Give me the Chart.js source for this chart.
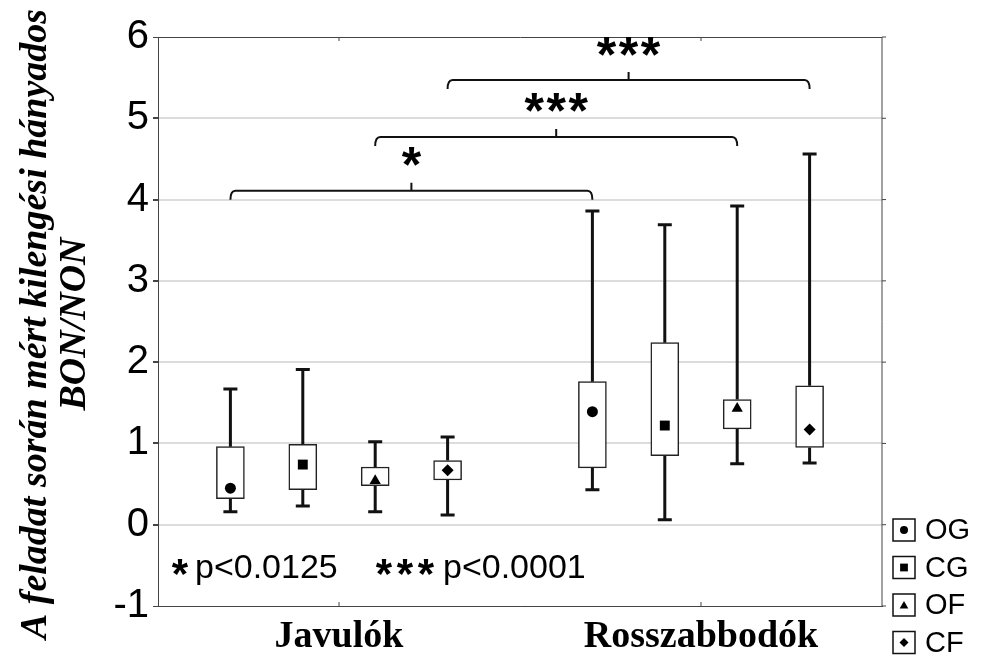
<!DOCTYPE html>
<html>
<head>
<meta charset="utf-8">
<script src="https://cdn.jsdelivr.net/npm/chart.js@4"></script>
<style>
  html, body { margin: 0; padding: 0; background: #fff; }
  canvas { display: block; }
</style>
</head>
<body>
<canvas id="chart" width="981" height="656"></canvas>
<script>
// groups on the x axis, 4 conditions in each group
const groups = ["Javulók", "Rosszabbodók"];
const series = ["OG", "CG", "OF", "CF"];
const pointStyles = ["circle", "rect", "triangle", "rectRot"];

// box values, order: Javulók OG, CG, OF, CF, then Rosszabbodók OG, CG, OF, CF
const whiskerMin = [0.16, 0.23, 0.16, 0.12, 0.43, 0.06, 0.75, 0.76];
const boxLow = [0.32, 0.43, 0.48, 0.55, 0.70, 0.85, 1.18, 0.95];
const centers = [0.45, 0.74, 0.54, 0.67, 1.39, 1.22, 1.43, 1.17];
const boxHigh = [0.96, 0.99, 0.71, 0.79, 1.76, 2.24, 1.54, 1.71];
const whiskerMax = [1.67, 1.91, 1.02, 1.08, 3.86, 3.69, 3.92, 4.56];

// significance brackets (box index from / to, height in y units)
const bracketFrom = [0, 2, 3];
const bracketTo = [4, 6, 7];
const bracketLevel = [4.11, 4.77, 5.47];
const bracketStars = [1, 3, 3];

const yTicks = [-1, 0, 1, 2, 3, 4, 5, 6];
const yTitle = ["A feladat során mért kilengési hányados", "BON/NON"];

// x position of box i: group center +- offsets
function boxPos(i) {
  const g = Math.floor(i / 4);
  const s = i % 4;
  return g + 0.5 + (s - 1.5) * 0.2;
}

// draws n asterisks centered on (cx, cy)
function drawStars(ctx, n, cx, cy, size, gap) {
  ctx.font = "bold " + size + 'px "Liberation Sans"';
  ctx.textAlign = "center";
  ctx.textBaseline = "alphabetic";
  const m = ctx.measureText("*");
  const base = cy + (m.actualBoundingBoxAscent - m.actualBoundingBoxDescent) / 2;
  for (let k = 0; k < n; k++) {
    ctx.fillText("*", cx + (k - (n - 1) / 2) * gap, base);
  }
}

const extras = {
  id: "boxExtras",
  beforeDatasetsDraw(chart) {
    const { ctx, scales: { x, y } } = chart;
    ctx.save();
    ctx.strokeStyle = "#111";
    ctx.lineWidth = 3;
    whiskerMax.forEach((hi, i) => {
      const px = x.getPixelForValue(boxPos(i));
      ctx.beginPath();
      ctx.moveTo(px, y.getPixelForValue(whiskerMin[i]));
      ctx.lineTo(px, y.getPixelForValue(boxLow[i]));
      ctx.moveTo(px, y.getPixelForValue(boxHigh[i]));
      ctx.lineTo(px, y.getPixelForValue(hi));
      // caps
      [whiskerMin[i], hi].forEach((v) => {
        const py = y.getPixelForValue(v);
        ctx.moveTo(px - 7, py);
        ctx.lineTo(px + 7, py);
      });
      ctx.stroke();
    });
    ctx.restore();
  },
  afterDraw(chart) {
    const { ctx, chartArea: a, scales: { x, y } } = chart;
    ctx.save();

    // frame: right border and small ticks
    ctx.strokeStyle = "#444";
    ctx.lineWidth = 1;
    ctx.beginPath();
    ctx.moveTo(a.right, a.top);
    ctx.lineTo(a.right, a.bottom);
    yTicks.forEach((v) => {
      const py = y.getPixelForValue(v);
      ctx.moveTo(a.right, py);
      ctx.lineTo(a.right + 4, py);
    });
    groups.forEach((g, gi) => {
      const px = x.getPixelForValue(gi + 0.5);
      ctx.moveTo(px, a.top);
      ctx.lineTo(px, a.top + 4);
      ctx.moveTo(px, a.bottom);
      ctx.lineTo(px, a.bottom - 4);
    });
    ctx.stroke();

    // brackets
    ctx.strokeStyle = "#111";
    ctx.fillStyle = "#000";
    ctx.lineWidth = 2;
    bracketLevel.forEach((lvl, b) => {
      const x1 = x.getPixelForValue(boxPos(bracketFrom[b]));
      const x2 = x.getPixelForValue(boxPos(bracketTo[b]));
      const py = y.getPixelForValue(lvl);
      const mid = (x1 + x2) / 2;
      ctx.beginPath();
      ctx.moveTo(x1, py + 9);
      ctx.quadraticCurveTo(x1, py, x1 + 5, py);
      ctx.lineTo(x2 - 5, py);
      ctx.quadraticCurveTo(x2, py, x2, py + 9);
      ctx.moveTo(mid, py);
      ctx.lineTo(mid, py - 8);
      ctx.stroke();
      drawStars(ctx, bracketStars[b], mid, py - 34, 50, 22);
    });

    // p-value note
    const noteY = a.bottom - 39;
    drawStars(ctx, 1, a.left + 22, noteY, 42, 21);
    ctx.font = '34px "Liberation Sans"';
    ctx.textAlign = "left";
    ctx.textBaseline = "middle";
    ctx.fillText("p<0.0125", a.left + 37, noteY + 2);
    drawStars(ctx, 3, a.left + 247, noteY, 42, 21);
    ctx.font = '34px "Liberation Sans"';
    ctx.textAlign = "left";
    ctx.textBaseline = "middle";
    ctx.fillText("p<0.0001", a.left + 285, noteY + 2);

    // legend
    series.forEach((name, s) => {
      const cy = 530 + s * 37.5;
      ctx.strokeStyle = "#111";
      ctx.lineWidth = 1.5;
      ctx.strokeRect(893, cy - 11, 22, 22);
      ctx.fillStyle = "#000";
      Chart.helpers.drawPoint(ctx, {
        pointStyle: pointStyles[s],
        radius: [4, 5.5, 5, 4.5][s],
        rotation: 0,
        borderWidth: 0,
      }, 904, cy + (s === 2 ? 1 : 0));
      ctx.font = '29px "Liberation Sans"';
      ctx.textAlign = "left";
      ctx.textBaseline = "middle";
      ctx.fillText(name, 925, cy + 1);
    });

    // y axis title
    ctx.translate(36, 324);
    ctx.rotate(-Math.PI / 2);
    ctx.font = 'italic bold 38px "Liberation Serif"';
    ctx.textAlign = "center";
    ctx.textBaseline = "middle";
    ctx.fillText(yTitle[0], 0, 0);
    ctx.fillText(yTitle[1], 0, 39);
    ctx.restore();
  },
};

new Chart(document.getElementById("chart"), {
  type: "bar",
  data: {
    datasets: [
      {
        type: "bar",
        label: "box",
        data: boxLow.map((lo, i) => ({ x: boxPos(i), y: [lo, boxHigh[i]] })),
        backgroundColor: "#fff",
        borderColor: "#222",
        borderWidth: 1.5,
        borderSkipped: false,
        barThickness: 28,
        order: 2,
      },
      ...series.map((name, s) => ({
        type: "scatter",
        label: name,
        data: groups.map((g, gi) => ({ x: boxPos(gi * 4 + s), y: centers[gi * 4 + s] })),
        pointStyle: pointStyles[s],
        pointRadius: [5.5, 7, 6.5, 6][s],
        backgroundColor: "#000",
        borderColor: "#000",
        borderWidth: 0,
        order: 1,
      })),
    ],
  },
  options: {
    responsive: false,
    devicePixelRatio: 1,
    animation: false,
    layout: { padding: { top: 37, right: 99, left: 0, bottom: 0 } },
    plugins: {
      legend: { display: false },
      tooltip: { enabled: false },
    },
    scales: {
      x: {
        type: "linear",
        min: 0,
        max: 2,
        offset: false,
        afterBuildTicks: (axis) => {
          axis.ticks = groups.map((g, gi) => ({ value: gi + 0.5 }));
        },
        afterFit: (axis) => {
          axis.height = 50;
        },
        grid: { display: false, drawTicks: false, offset: false },
        border: { display: true, color: "#444", width: 1 },
        ticks: {
          callback: (v, i) => groups[i],
          color: "#000",
          maxRotation: 0,
          autoSkip: false,
          padding: 8,
          font: { family: "Liberation Serif", size: 38, weight: "bold" },
        },
      },
      y: {
        min: -1,
        max: 6,
        afterBuildTicks: (axis) => {
          axis.ticks = yTicks.map((v) => ({ value: v }));
        },
        afterFit: (axis) => {
          axis.width = 158;
        },
        grid: {
          color: (c) => (c.tick.value === 6 || c.tick.value === -1 ? "#444" : "#dcdcdc"),
          lineWidth: (c) => (c.tick.value === 6 || c.tick.value === -1 ? 1 : 2),
          tickColor: "#444",
          tickLength: 5,
        },
        border: { display: true, color: "#444", width: 1 },
        ticks: {
          color: "#000",
          padding: 4,
          font: { family: "Liberation Sans", size: 40 },
        },
      },
    },
  },
  plugins: [extras],
});
</script>
</body>
</html>
